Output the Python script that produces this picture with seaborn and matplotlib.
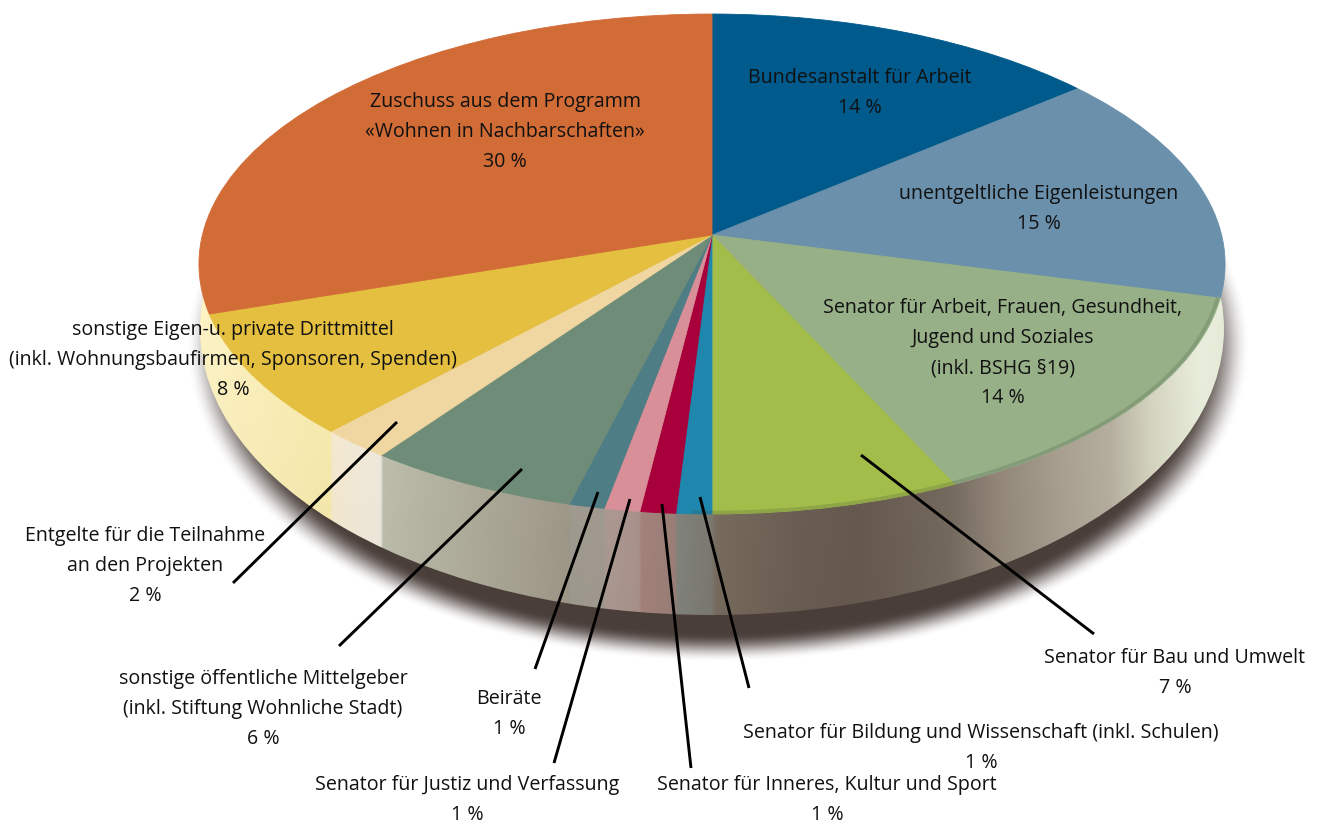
import numpy as np
import matplotlib
matplotlib.use("Agg")
import matplotlib.pyplot as plt
from matplotlib.colors import to_rgb
from matplotlib.patches import Ellipse
from matplotlib.transforms import Transform
import seaborn as sns

# === DATEN ===
anteile = [14, 15, 14, 7, 1, 1, 1, 1, 6, 2, 8, 30]
namen = [
    "Bundesanstalt für Arbeit",
    "unentgeltliche Eigenleistungen",
    "Senator für Arbeit, Frauen, Gesundheit,\nJugend und Soziales\n(inkl. BSHG §19)",
    "Senator für Bau und Umwelt",
    "Senator für Bildung und Wissenschaft (inkl. Schulen)",
    "Senator für Inneres, Kultur und Sport",
    "Senator für Justiz und Verfassung",
    "Beiräte",
    "sonstige öffentliche Mittelgeber\n(inkl. Stiftung Wohnliche Stadt)",
    "Entgelte für die Teilnahme\nan den Projekten",
    "sonstige Eigen-u. private Drittmittel\n(inkl. Wohnungsbaufirmen, Sponsoren, Spenden)",
    "Zuschuss aus dem Programm\n«Wohnen in Nachbarschaften»",
]

# === STIL ===
farben = ["#005a8c", "#6a90ab", "#97b088", "#a3bd4a", "#1f87ad", "#a8003a",
          "#d88f98", "#4f7d85", "#6e8c78", "#f0d6a0", "#e5bf40", "#d26c36"]

# Mitte der Beschriftung in Pixeln (x, y der ersten Zeile)
text_pos = [(860, 77), (1039, 193), (1003, 307), (1175, 657), (981, 732), (827, 784),
            (467, 784), (509, 698), (263, 678), (145, 535), (233, 329), (505, 101)]

# Hinweislinien: Text -> Segment
linien = [(None, None), (None, None), (None, None),
          ((1094, 634), (861, 455)), ((749, 688), (700, 497)), ((691, 768), (662, 504)),
          ((554, 763), (630, 499)), ((535, 669), (598, 492)), ((339, 646), (522, 469)),
          ((233, 583), (397, 422)), (None, None), (None, None)]

# Seitenwand: Farbverlauf je Segment (links -> rechts)
wand_farben = {
    10: ("#f8eec0", "#f5e8ac"),
    9: ("#f3e8cf", "#eee8dc"),
    8: ("#bcbdab", "#9f9889"),
    7: ("#a09b90", "#a19a90"),
    6: ("#ac9a92", "#aa928c"),
    5: ("#a5827c", "#9a8078"),
    4: ("#81837c", "#7c7a70"),
}
wand_rest = [(716, "#786c5e"), (800, "#6a5d52"), (860, "#665950"), (950, "#756a5e"),
             (1000, "#93887a"), (1060, "#a89f90"), (1110, "#b5ae9e"), (1150, "#d2d2be"),
             (1200, "#e6ebd9"), (1230, "#dfe6d2")]

MX, MY = 712, 235   # Spitze der Torte
A, B, K = 509.6, 246.6, 0.116


class Perspektive(Transform):
    """Einheitskreis -> Pixel, hintere Kante gestaucht."""
    input_dims = 2
    output_dims = 2
    is_separable = False

    def transform_non_affine(self, values):
        values = np.asarray(values, dtype=float)
        n = 1 + K * values[:, 1]
        return np.column_stack([MX + A * values[:, 0] / n, MY - B * values[:, 1] / n])


def rand_x(prozent):
    t = np.deg2rad(np.asarray(prozent) * 3.6)
    return MX + A * np.sin(t) / (1 + K * np.cos(t))


sns.set_theme(style="white")
plt.rcParams["font.family"] = ["Open Sans", "DejaVu Sans"]

fig = plt.figure(figsize=(13.18, 8.24), dpi=100)
ax = fig.add_axes([0, 0, 1, 1])

palette = sns.color_palette(farben)
wedges, _ = ax.pie(anteile, colors=palette, startangle=90, counterclock=False, radius=1,
                   wedgeprops={"linewidth": 0.6, "zorder": 3})
for w, c in zip(wedges, palette):
    w.set_edgecolor(c)
ax.set_aspect("auto")
persp = Perspektive() + ax.transData
for w in wedges:
    w.set_transform(persp)

# --- Schatten ---
gx, gy = np.meshgrid(np.arange(0, 1318, 2.0), np.arange(0, 824, 2.0))
d = np.sqrt(((gx - 717) / 532) ** 2 + ((gy - 345) / 316) ** 2)
s = np.clip((1 - d) / 0.09, 0, 1)
s = s * s * (3 - 2 * s)
schatten = np.zeros(d.shape + (4,))
schatten[..., :3] = to_rgb("#4a3e3a")
schatten[..., 3] = s
ax.imshow(schatten, extent=(0, 1318, 824, 0), aspect="auto", zorder=1, interpolation="bilinear")

# --- Seitenwand ---
kum = np.cumsum(anteile)
stops_x, stops_c = [], []
for i in sorted(wand_farben, reverse=True):
    x0, x1 = rand_x(kum[i]), rand_x(kum[i] - anteile[i])
    if i == 10:
        x0 = 195
    stops_x += [x0 + 1.5, x1 - 1.5]
    stops_c += [to_rgb(wand_farben[i][0]), to_rgb(wand_farben[i][1])]
for x, c in wand_rest:
    stops_x.append(x)
    stops_c.append(to_rgb(c))
stops_c = np.array(stops_c)
wx = np.arange(190, 1235)
wy = np.arange(230, 620)
zeile = np.column_stack([np.interp(wx, stops_x, stops_c[:, k]) for k in range(3)])
wand = np.repeat(zeile[None, :, :], len(wy), axis=0)
wand = np.clip(wand * (1.03 - 0.05 * (wy[:, None, None] - 230) / 390), 0, 1)
bild = ax.imshow(wand, extent=(190, 1235, 620, 230), aspect="auto", zorder=2)
huelle = Ellipse((712, 329), 1024, 572, transform=ax.transData, facecolor="none", edgecolor="none")
ax.add_patch(huelle)
bild.set_clip_path(huelle)

# --- dunkle Kante am Rand (nur rechts unten sichtbar) ---
t = np.deg2rad(np.linspace(104.4, 182, 120))
ax.plot(0.995 * np.sin(t), 0.995 * np.cos(t), color="#3c4a3a", alpha=0.2, lw=2.5,
        transform=persp, zorder=4, solid_capstyle="butt")

ax.set_xlim(0, 1318)
ax.set_ylim(824, 0)
ax.axis("off")

# --- Hinweislinien + Texte ---
for seg in linien:
    if seg[0] is not None:
        ax.plot([seg[0][0], seg[1][0]], [seg[0][1], seg[1][1]], color="black", lw=2.1, zorder=6,
                solid_capstyle="butt")

for name, wert, (x, y) in zip(namen, anteile, text_pos):
    ax.text(x, y - 9, f"{name}\n{wert} %", ha="center", va="top", fontsize=14.1,
            linespacing=1.67, color="#111111", zorder=7)

fig.savefig("out.png", dpi=100)
